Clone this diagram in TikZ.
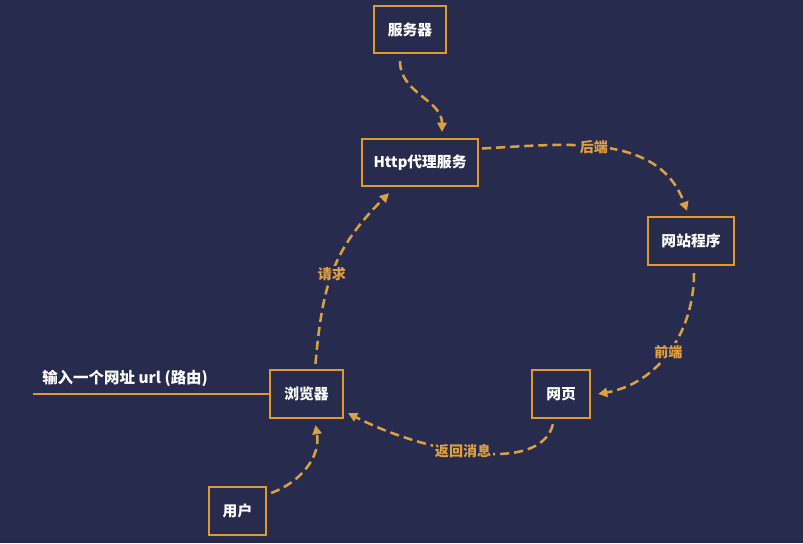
\documentclass[tikz,border=0pt]{standalone}
\usepackage{fontspec}
\setmainfont{Noto Sans CJK SC}
\usepackage{xcolor}
\usepackage{tikz}
\usetikzlibrary{arrows.meta}
\definecolor{bgblue}{HTML}{272B4D}
\definecolor{boxorange}{HTML}{E09A2A}
\definecolor{floworange}{HTML}{D9A044}
\definecolor{lblorange}{HTML}{E0A040}
\begin{document}
\begin{tikzpicture}[scale=0.25]
\tikzset{
every node/.style={inner sep=0pt},
box/.style={draw=boxorange, line width=1.6pt, text=white, font=\bfseries\fontsize{10.5}{12}\selectfont, minimum height=1.2cm},
flow/.style={draw=floworange, line width=1.8pt, dash pattern=on 6.5pt off 3.5pt, -{Triangle[length=6.5pt,width=6.5pt]}},
lbl/.style={text=lblorange, font=\bfseries\fontsize{10}{12}\selectfont, fill=bgblue, inner sep=1.5pt}
}
\useasboundingbox[fill=bgblue] (0,0) rectangle (80.3,-54.3);
\node [box, minimum width=1.8cm, minimum height=1.175cm] (srv) at (41.0,-2.95) {服务器};
\node [box, minimum width=2.9cm, minimum height=1.175cm] (http) at (42.0,-16.25) {Http代理服务};
\node [box, minimum width=2.15cm] (site) at (69.1,-24.1) {网站程序};
\node [box, minimum width=1.45cm] (page) at (56.1,-39.4) {网页};
\node [box, minimum width=1.825cm] (browser) at (30.65,-39.4) {浏览器};
\node [box, minimum width=1.425cm] (user) at (23.75,-51.1) {用户};
\coordinate (input) at (3.3,-39.4);
\draw [boxorange, line width=1.4pt] (input) -- (browser.west);
\node [text=white, font=\bfseries\fontsize{11}{13}\selectfont, anchor=west] (urltext) at (4.2,-37.8) {输入一个网址 url (路由)};
\draw [flow] ([xshift=-1cm,yshift=-0.7cm]srv.south) to[out=-90,in=90] ([xshift=2.2cm,yshift=0.6cm]http.north);
\draw [flow] ([xshift=0.3cm,yshift=1.4cm]http.east) to[out=3,in=110] node[lbl, pos=0.45] (backend) {后端} ([xshift=-0.4cm,yshift=0.5cm]site.north);
\draw [flow] ([xshift=0.3cm,yshift=-0.7cm]site.south) to[out=-90,in=10] node[lbl, pos=0.5] (frontend) {前端} ([xshift=0.7cm]page.east);
\draw [flow] ([xshift=-0.8cm,yshift=-0.5cm]page.south) .. controls +(-104:5.4) and +(-27.5:8.2) .. node[lbl, pos=0.54] (reply) {返回消息} ([xshift=0.4cm,yshift=0.6cm]browser.south east);
\draw [flow] ([xshift=0.9cm,yshift=0.5cm]browser.north) to[out=85,in=-135,looseness=1.1] node[lbl, pos=0.47] (request) {请求} ([xshift=-3.1cm,yshift=-0.6cm]http.south);
\draw [flow] ([xshift=0.4cm,yshift=1.8cm]user.east) to[out=20,in=-80] ([xshift=0.9cm,yshift=-0.6cm]browser.south);
\end{tikzpicture}
\end{document}
